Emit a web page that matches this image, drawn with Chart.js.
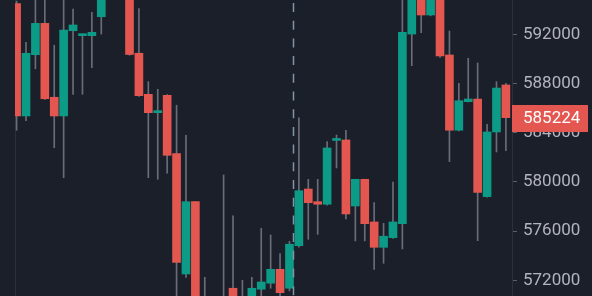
<!DOCTYPE html>
<html>
<head>
<meta charset="utf-8">
<script src="https://cdn.jsdelivr.net/npm/chart.js@4"></script>
<style>
  html, body { margin: 0; padding: 0; background: #1b1f2a; }
  #wrap { width: 592px; height: 296px; }
</style>
</head>
<body>
<div id="wrap"><canvas id="chart"></canvas></div>
<script>
// candles, oldest first
var opens  = [594500, 585360, 590340, 592890, 586880, 585360, 592290, 591890, 591890, 593430,
              595900, 597200, 596600, 590460, 587120, 585630, 587040, 582300, 572510, 578390,
              570500, 569600, 569400, 571350, 570500, 570300, 571270, 571760, 572890, 571350,
              574810, 579420, 578390, 578180, 583370, 583410, 578040, 580210, 576740, 574680,
              575460, 576600, 592020, 596000, 593570, 595400, 590320, 584200, 586520, 586740,
              578800, 584060, 587880];
var closes = [585360, 590460, 592890, 586760, 585360, 592350, 592760, 592020, 592160, 595900,
              597200, 596600, 590360, 587010, 585630, 585670, 582160, 573460, 578390, 570300,
              569500, 570300, 570500, 569800, 570200, 571350, 571860, 572890, 570990, 574930,
              579280, 578310, 578180, 582760, 583420, 577390, 580210, 576600, 574680, 575580,
              576740, 592160, 595600, 593570, 595500, 590240, 584200, 586600, 586740, 579150,
              584060, 587630, 585224];
var highs  = [594700, 591350, 595600, 595500, 591110, 595300, 594060, 592020, 593790, 596400,
              597800, 598000, 597000, 594090, 588150, 587530, 587100, 586230, 583790, 578390,
              572240, 570600, 580560, 577230, 572000, 572240, 576230, 575680, 574160, 575170,
              585200, 580210, 580210, 583270, 583810, 584200, 580210, 580210, 578310, 576630,
              579990, 595500, 596200, 596500, 596000, 595800, 592270, 588020, 590050, 589670,
              584680, 588150, 588020];
var lows   = [584200, 584980, 589200, 586700, 582780, 580340, 587120, 587120, 589290, 592020,
              595300, 595400, 590300, 586950, 580340, 580210, 580700, 570400, 572240, 569800,
              569200, 569000, 569000, 569500, 569900, 570000, 570400, 571350, 570500, 571130,
              574700, 575330, 575740, 578100, 581130, 576980, 575200, 575200, 572890, 573380,
              575400, 574550, 589450, 592130, 593500, 590130, 581650, 584150, 586500, 575220,
              578750, 582430, 582540];
var yTicks = [572000, 576000, 580000, 584000, 588000, 592000];
var markerIndex = 29.36;   // dashed vertical marker
var lastPrice = closes[closes.length - 1];

var up = '#0c9b86', down = '#e35750';
var idx = opens.map(function (o, i) { return i; });
var bodyColors = opens.map(function (o, i) { return closes[i] >= o ? up : down; });

var extras = {
    id: 'extras',
    beforeDraw: function (chart) {
        var c = chart.ctx;
        c.save();
        c.fillStyle = '#1b1f2a';
        c.fillRect(0, 0, chart.width, chart.height);
        c.restore();
    },
    beforeDatasetsDraw: function (chart) {
        var c = chart.ctx, a = chart.chartArea;
        c.save();
        c.strokeStyle = '#2c303b';
        c.lineWidth = 1;
        c.beginPath();
        c.moveTo(a.left + 0.5, a.top);
        c.lineTo(a.left + 0.5, a.bottom);
        c.stroke();
        c.restore();
    },
    afterDatasetsDraw: function (chart) {
        var c = chart.ctx, a = chart.chartArea;
        var x = Math.round(chart.scales.x.getPixelForValue(markerIndex)) + 0.5;
        c.save();
        c.strokeStyle = '#8393a8';
        c.lineWidth = 1.5;
        c.setLineDash([9, 8.7]);
        c.lineDashOffset = -3;
        c.beginPath();
        c.moveTo(x, a.top);
        c.lineTo(x, a.bottom);
        c.stroke();
        c.restore();
    },
    afterDraw: function (chart) {
        var c = chart.ctx, a = chart.chartArea;
        var y = chart.scales.y.getPixelForValue(lastPrice);
        c.save();
        c.fillStyle = down;
        c.fillRect(a.right, Math.round(y) - 13, 76, 27);
        c.fillStyle = '#ffffff';
        c.font = '17px Roboto';
        c.textBaseline = 'middle';
        c.fillText(String(lastPrice), a.right + 11, y + 1);
        c.restore();
    }
};

new Chart(document.getElementById('chart'), {
    type: 'bar',
    data: {
        labels: idx,
        datasets: [
            {
                label: 'body',
                data: idx.map(function (i) { return { x: i, y: [opens[i], closes[i]] }; }),
                backgroundColor: bodyColors,
                barThickness: 8,
                minBarLength: 2,
                grouped: false,
                clip: 0,
                order: 0
            },
            {
                label: 'wick',
                data: idx.map(function (i) { return { x: i, y: [lows[i], highs[i]] }; }),
                backgroundColor: '#6a6d78',
                barThickness: 1,
                grouped: false,
                clip: 0,
                order: 1
            }
        ]
    },
    options: {
        responsive: true,
        maintainAspectRatio: false,
        animation: false,
        layout: { padding: { left: 15, top: 0, bottom: 0, right: 0 } },
        plugins: { legend: { display: false }, tooltip: { enabled: false } },
        scales: {
            x: {
                type: 'linear',
                display: false,
                offset: false,
                min: -0.17,
                max: 52.65
            },
            y: {
                position: 'right',
                min: 570720,
                max: 594790,
                afterFit: function (s) {
                    s.width = 80;
                    s.paddingTop = 0;
                    s.paddingBottom = 0;
                },
                afterBuildTicks: function (s) { s.ticks = yTicks.map(function (v) { return { value: v }; }); },
                border: { color: '#2c303b' },
                grid: { drawOnChartArea: false, tickLength: 5, color: '#5a5e69' },
                ticks: {
                    color: '#b2b5be',
                    padding: 6,
                    font: { family: 'Roboto', size: 17 },
                    callback: function (v) { return String(v); }
                }
            }
        }
    },
    plugins: [extras]
});
</script>
</body>
</html>
